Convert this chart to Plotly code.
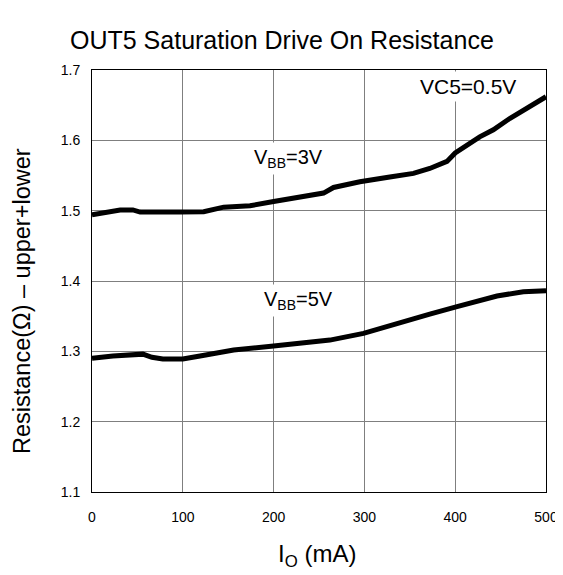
import plotly.graph_objects as go

# Data
io_3v = [0, 16, 31, 45, 53, 97, 123, 145, 174, 200, 225, 255, 266, 295, 328, 354, 372, 391, 400, 427, 442, 460, 500]
r_3v = [1.494, 1.4985, 1.501, 1.501, 1.498, 1.498, 1.4985, 1.505, 1.507, 1.513, 1.519, 1.525, 1.533, 1.541, 1.548,
        1.553, 1.560, 1.570, 1.582, 1.605, 1.615, 1.631, 1.662]

io_5v = [0, 23, 56, 66, 78, 100, 119, 156, 200, 262, 299, 336, 372, 402, 435, 446, 475, 500]
r_5v = [1.290, 1.2934, 1.296, 1.2915, 1.289, 1.289, 1.2934, 1.302, 1.3076, 1.316, 1.3256, 1.340, 1.353, 1.3635,
        1.3744, 1.3787, 1.3848, 1.3862]

x_ticks = [0, 100, 200, 300, 400, 500]
y_ticks = [1.1, 1.2, 1.3, 1.4, 1.5, 1.6, 1.7]

title_text = "OUT5 Saturation Drive On Resistance"
x_title = "I<sub>O</sub> (mA)"
y_title = "Resistance(Ω) – upper+lower"
labels = [
    {"text": "V<sub>BB</sub>=3V", "x": 216, "y": 1.5735},
    {"text": "V<sub>BB</sub>=5V", "x": 227, "y": 1.3716},
    {"text": "VC5=0.5V", "x": 414, "y": 1.6770},
]

FONT = "Liberation Sans, Arial, sans-serif"

# The page body has an 8 px default margin; positions below are in screenshot pixels.
OFF = 8
W, H = 563 - OFF, 575 - OFF
PL, PR, PT, PB = 92 - OFF, 546 - OFF, 70 - OFF, 492 - OFF
PW, PH = PR - PL, PB - PT


def px(xs):
    return (xs - OFF - PL) / PW


def py(ys):
    return (PB - (ys - OFF)) / PH


fig = go.Figure()
fig.add_trace(go.Scatter(x=io_3v, y=r_3v, mode="lines", line=dict(color="black", width=5), showlegend=False))
fig.add_trace(go.Scatter(x=io_5v, y=r_5v, mode="lines", line=dict(color="black", width=5), showlegend=False))

annotations = []
for lb in labels:
    annotations.append(dict(x=lb["x"], y=lb["y"], xref="x", yref="y", text=lb["text"], showarrow=False,
                            font=dict(family=FONT, size=20 if "BB" in lb["text"] else 21, color="black"),
                            bgcolor="white", borderpad=3))

annotations.append(dict(x=px(281.5), y=py(40), xref="paper", yref="paper", text=title_text,
                        showarrow=False, font=dict(family=FONT, size=25, color="black"),
                        xanchor="center", yanchor="middle"))
annotations.append(dict(x=px(317), y=py(555), xref="paper", yref="paper", text=x_title,
                        showarrow=False, font=dict(family=FONT, size=24, color="black"),
                        xanchor="center", yanchor="middle"))
annotations.append(dict(x=px(22), y=py(301), xref="paper", yref="paper", text=y_title,
                        showarrow=False, textangle=-90, font=dict(family=FONT, size=23.5, color="black"),
                        xanchor="center", yanchor="middle"))

fig.update_layout(
    width=W, height=H,
    margin=dict(l=PL, r=W - PR, t=PT, b=H - PB, autoexpand=False),
    paper_bgcolor="white", plot_bgcolor="white",
    annotations=annotations,
    font=dict(family=FONT, color="black"),
)
fig.update_xaxes(range=[0, 500], tickvals=x_ticks, ticktext=[str(v) for v in x_ticks], automargin=False,
                 showgrid=True, gridcolor="#7f7f7f", gridwidth=1, zeroline=False,
                 showline=True, linecolor="black", linewidth=1, mirror=True,
                 ticks="", ticklabelstandoff=12, tickfont=dict(family=FONT, size=14, color="black"))
fig.update_yaxes(range=[1.1, 1.7], tickvals=y_ticks, ticktext=[f"{v:.1f}" for v in y_ticks], automargin=False,
                 showgrid=True, gridcolor="#7f7f7f", gridwidth=1, zeroline=False,
                 showline=True, linecolor="black", linewidth=1, mirror=True,
                 ticks="", ticklabelstandoff=8, tickfont=dict(family=FONT, size=14, color="black"))

fig.write_html("out.html")
